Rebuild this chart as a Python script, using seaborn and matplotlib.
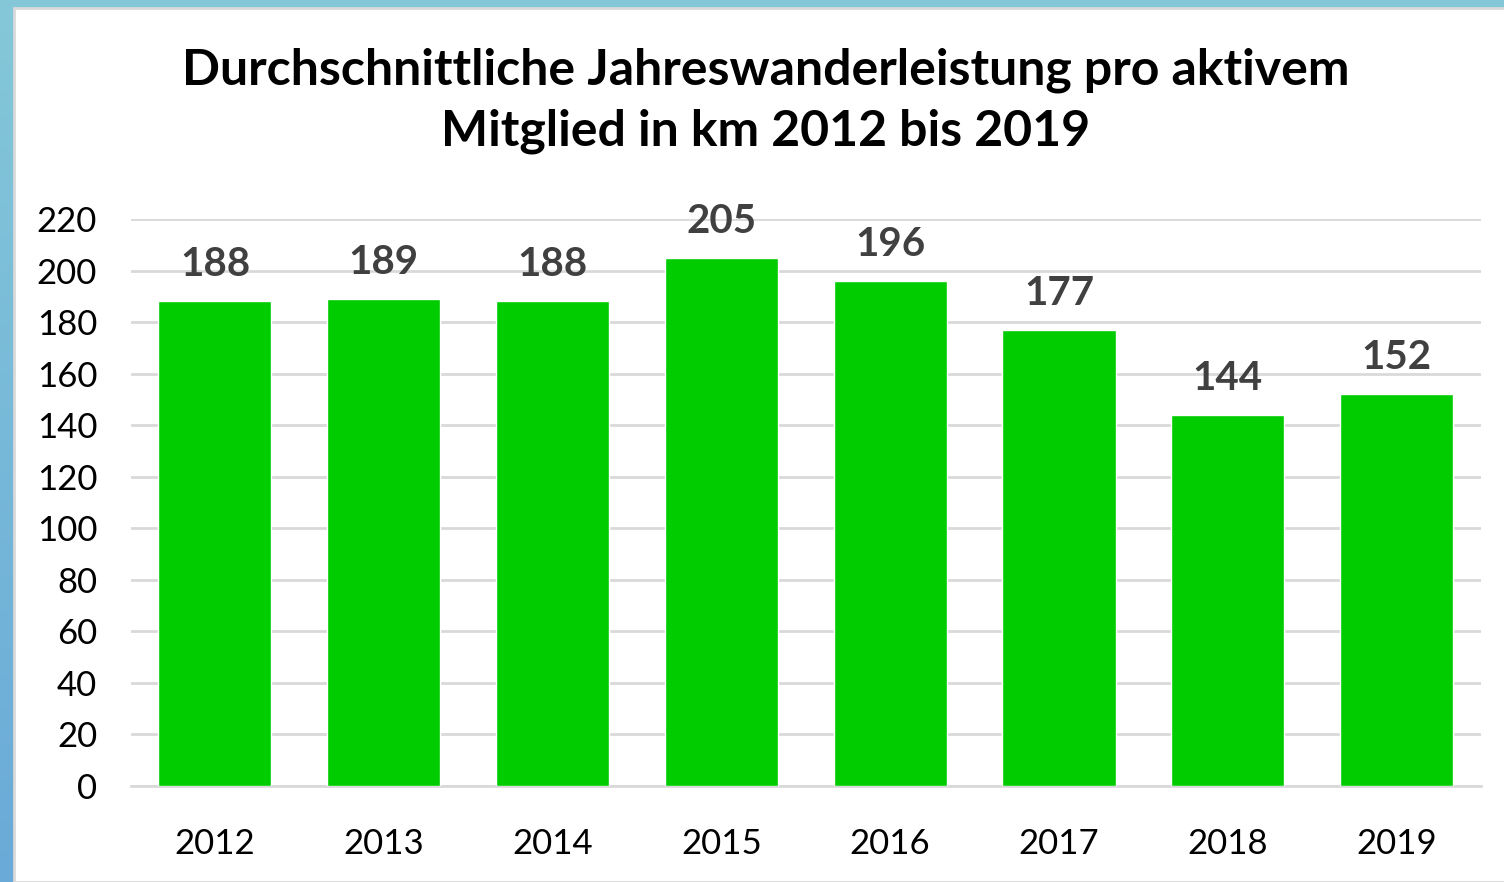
import numpy as np
import pandas as pd
import seaborn as sns
import matplotlib.pyplot as plt
from matplotlib.colors import LinearSegmentedColormap
from matplotlib.patches import Rectangle

# Daten
jahre = ['2012', '2013', '2014', '2015', '2016', '2017', '2018', '2019']
km = [188, 189, 188, 205, 196, 177, 144, 152]
y_ticks = [0, 20, 40, 60, 80, 100, 120, 140, 160, 180, 200, 220]

df = pd.DataFrame({'Jahr': jahre, 'km': km})

sns.set_theme(style="white")
plt.rcParams['font.family'] = ['Lato', 'DejaVu Sans']

fig = plt.figure(figsize=(15.04, 8.82), dpi=100)

# blauer Rahmen mit Verlauf
bg = fig.add_axes([0, 0, 1, 1], zorder=-10)
verlauf = LinearSegmentedColormap.from_list("rahmen", ["#84c8d8", "#6aaad8"])
bg.imshow(np.linspace(0, 1, 256).reshape(-1, 1), aspect='auto', cmap=verlauf,
          extent=[0, 1, 0, 1], origin='upper')
bg.add_patch(Rectangle((14 / 1504, 0), 1, 1 - 8 / 882, facecolor='white',
                       edgecolor='#d9d9d9', linewidth=2))
bg.set_xlim(0, 1)
bg.set_ylim(0, 1)
bg.axis('off')

ax = fig.add_axes([0.0868, 0.1088, 0.8979, 0.6429])
ax.patch.set_alpha(0)
sns.barplot(data=df, x='Jahr', y='km', color='#00cc00', width=0.67,
            saturation=1, ax=ax, zorder=3)

ax.set_ylim(0, 220)
ax.set_yticks(y_ticks)
ax.yaxis.grid(True, color='#d9d9d9', linewidth=2, zorder=0)
ax.set_axisbelow(True)
for s in ['top', 'right', 'left']:
    ax.spines[s].set_visible(False)
ax.spines['bottom'].set_color('#d9d9d9')
ax.spines['bottom'].set_linewidth(2)
ax.tick_params(axis='both', length=0, labelsize=25, colors='black')
ax.tick_params(axis='y', pad=24)
ax.tick_params(axis='x', pad=30)
ax.set_xlabel('')
ax.set_ylabel('')

for i, v in enumerate(km):
    ax.text(i, v + 7, str(v), ha='center', va='bottom', fontsize=29,
            fontweight='bold', color='#404040', clip_on=False)

fig.text(0.509, 0.886, "Durchschnittliche Jahreswanderleistung pro aktivem\nMitglied in km 2012 bis 2019",
         ha='center', va='center', fontsize=36, fontweight='bold', color='black',
         linespacing=1.42)

plt.savefig("out.png", dpi=100)
